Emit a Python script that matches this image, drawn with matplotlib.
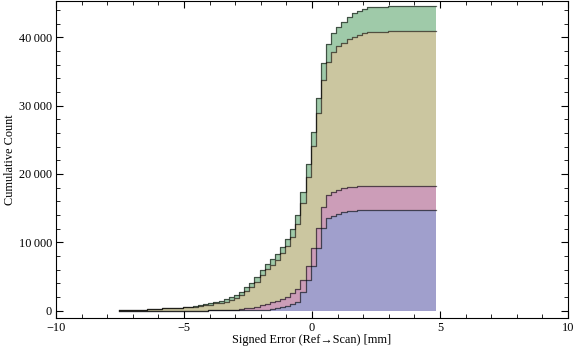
import numpy as np
import matplotlib
matplotlib.use("Agg")
import matplotlib.pyplot as plt
from matplotlib.ticker import MultipleLocator, FuncFormatter

# cumulative counts per group, one value per bin (bin width 0.2 mm)
bin_start = -7.55
bin_width = 0.2

blue = [0]*16 + [10, 10, 20, 20, 30, 30, 40, 50, 60, 70, 80, 90, 100, 120, 180, 320,
                 470, 690, 950, 1290, 2660, 4420, 6470, 9100, 12030, 13500, 13880,
                 14150, 14380, 14520, 14570] + [14650]*16
pink = [0]*20 + [10, 20, 30, 60, 120, 250, 330, 470, 700, 830, 1020, 1110, 1210, 1330,
                 1570, 1810, 1840, 2090, 2640, 2930, 3170, 3410, 3510, 3510, 3510,
                 3520, 3530] + [3550]*16
olive = [15, 15, 60, 60, 60, 60, 200, 200, 200, 390, 390, 390, 400, 450, 500, 580, 670,
         760, 860, 1030, 1100, 1240, 1470, 1680, 2090, 2530, 3070, 3610, 4350, 5080,
         5460, 5960, 6690, 7420, 8200, 9520, 11190, 12990, 14970, 16840, 18550, 19520,
         20500, 21060, 21320, 21660, 21980, 22180, 22380, 22530, 22530, 22530,
         22530] + [22670]*10
green = [0]*12 + [30, 70, 80, 90, 120, 160, 200, 240, 290, 340, 390, 440, 500, 560, 620,
                  700, 780, 830, 870, 920, 960, 1000, 1200, 1360, 1610, 1900, 2100, 2200,
                  2440, 2640, 2720, 2840, 3070, 3300, 3420, 3480, 3560, 3640, 3660, 3670,
                  3680, 3690, 3690] + [3700]*8

layers = [blue, pink, olive, green]
colors = ["#a09fcc", "#cc9db8", "#cbc6a0", "#9fcaa9"]

x = bin_start + bin_width * np.arange(len(blue))

plt.rcParams["font.family"] = ["Liberation Serif", "DejaVu Serif"]

fig = plt.figure(figsize=(5.76, 3.57), dpi=100)
ax = fig.add_axes([0.0972, 0.109, 0.889, 0.888])

lower = np.zeros(len(x))
for vals, col in zip(layers, colors):
    upper = lower + np.array(vals)
    ax.fill_between(x, lower, upper, step="mid", facecolor=col, linewidth=0)
    lower = upper

lower = np.zeros(len(x))
for vals in layers:
    upper = lower + np.array(vals)
    ax.step(x, upper, where="mid", color="black", alpha=0.6, lw=0.9)
    lower = upper

ax.set_xlim(-10, 10)
ax.set_ylim(-1100, 45300)

ax.xaxis.set_major_locator(MultipleLocator(5))
ax.xaxis.set_minor_locator(MultipleLocator(1))
ax.yaxis.set_major_locator(MultipleLocator(10000))
ax.yaxis.set_minor_locator(MultipleLocator(2000))
ax.yaxis.set_major_formatter(FuncFormatter(
    lambda v, p: f"{int(v):,}".replace(",", "\u2009")))
ax.xaxis.set_major_formatter(FuncFormatter(
    lambda v, p: f"{int(v)}".replace("-", "\u2212")))

ax.tick_params(which="both", direction="in", top=True, right=True,
               labelsize=8.8, colors="black", pad=3)
ax.tick_params(which="major", length=5, width=0.8)
ax.tick_params(which="minor", length=3, width=0.6)
for s in ax.spines.values():
    s.set_linewidth(0.8)

ax.set_xlabel("Signed Error (Ref\u2192Scan) [mm]", fontsize=8.8, labelpad=0)
ax.set_ylabel("Cumulative Count", fontsize=8.8, labelpad=2)

fig.savefig("out.png", dpi=100)
